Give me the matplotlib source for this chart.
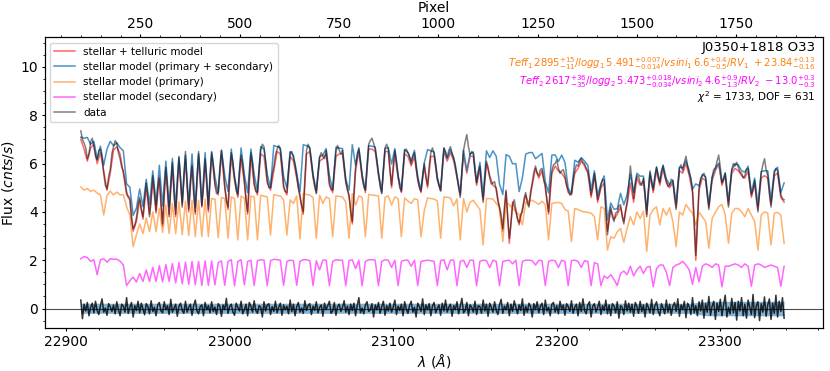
import numpy as np
import matplotlib.pyplot as plt
from matplotlib.ticker import AutoMinorLocator, MultipleLocator

# wavelength sampling (Angstrom): models every 2 A, data and residual every 1 A
wave = np.arange(22909, 23340, 2)
wave_fine = np.arange(22909, 23340, 1)

model_primary = [
    5.03, 4.90, 4.97, 4.85, 4.90, 4.78, 4.70, 3.87, 4.68, 4.86,
    4.70, 4.82, 4.70, 4.72, 4.21, 3.87, 2.56, 3.05, 3.50, 3.10,
    3.75, 3.18, 4.00, 3.18, 4.15, 3.15, 4.28, 3.11, 4.35, 3.10,
    4.42, 3.05, 4.45, 3.02, 4.48, 2.98, 4.48, 2.98, 4.53, 2.98,
    4.55, 4.53, 2.93, 4.60, 4.55, 2.91, 4.62, 4.55, 2.84, 4.65,
    4.58, 2.84, 4.65, 4.62, 2.84, 4.69, 4.65, 4.62, 3.04, 4.72,
    4.68, 4.66, 4.50, 3.04, 4.50, 4.35, 4.66, 2.88, 4.76, 4.72,
    4.69, 4.60, 2.91, 4.69, 4.35, 4.62, 4.55, 2.97, 4.66, 4.64,
    4.62, 4.40, 2.91, 4.76, 4.28, 4.66, 4.60, 2.97, 4.72, 4.70,
    4.68, 4.66, 2.91, 4.60, 4.66, 4.28, 4.62, 4.55, 2.97, 4.58,
    4.45, 4.35, 4.55, 4.50, 2.97, 4.05, 4.58, 4.55, 4.53, 4.45,
    2.91, 4.62, 4.60, 4.58, 4.25, 4.53, 2.84, 4.55, 4.00, 4.40,
    4.48, 4.28, 4.10, 2.63, 4.55, 4.55, 4.53, 4.35, 4.20, 2.77,
    4.39, 4.30, 4.14, 4.00, 3.89, 3.46, 4.39, 4.45, 4.48, 4.40,
    4.31, 4.44, 4.30, 2.84, 4.35, 4.38, 4.39, 4.35, 4.10, 4.03,
    2.77, 4.14, 4.10, 4.03, 4.00, 3.98, 3.95, 3.80, 2.84, 4.21,
    4.14, 2.42, 2.97, 2.91, 3.18, 3.32, 2.74, 3.32, 3.80, 3.46,
    4.00, 3.73, 4.03, 2.36, 3.87, 4.10, 4.21, 3.46, 4.14, 3.87,
    4.17, 3.60, 2.56, 4.00, 3.87, 4.31, 4.10, 3.94, 3.46, 3.98,
    3.80, 3.60, 2.50, 3.73, 3.98, 4.21, 4.31, 3.87, 2.70, 3.94,
    4.14, 4.14, 4.00, 3.80, 4.14, 3.87, 3.60, 2.42, 3.87, 4.00,
    3.95, 2.63, 3.94, 3.98, 3.87, 2.70,
]

model_secondary = [
    2.06, 2.15, 2.11, 1.95, 2.02, 1.40, 2.02, 2.06, 1.92, 2.06,
    2.04, 2.04, 1.96, 1.81, 0.95, 1.15, 1.30, 1.10, 1.45, 1.12,
    1.60, 1.12, 1.70, 1.12, 1.78, 1.10, 1.82, 1.12, 1.86, 1.06,
    1.90, 1.02, 1.92, 1.00, 1.95, 0.98, 1.95, 0.96, 1.97, 0.96,
    1.97, 0.98, 1.90, 1.97, 0.96, 1.95, 2.02, 0.94, 1.95, 2.02,
    0.98, 1.95, 2.00, 0.95, 1.98, 2.02, 2.00, 0.95, 1.98, 2.04,
    2.02, 2.00, 0.96, 1.95, 2.00, 1.98, 0.96, 1.95, 2.02, 2.02,
    1.98, 0.95, 1.98, 1.60, 2.00, 2.00, 0.95, 1.95, 2.02, 2.00,
    2.00, 0.95, 1.98, 2.02, 1.65, 2.00, 0.95, 1.95, 2.02, 2.02,
    2.00, 0.95, 1.95, 2.02, 2.00, 1.70, 2.00, 0.95, 1.95, 2.00,
    2.00, 1.75, 2.00, 0.95, 1.95, 1.98, 2.00, 1.98, 1.95, 0.95,
    1.98, 2.02, 1.60, 2.00, 2.00, 0.95, 1.95, 2.00, 1.70, 2.00,
    2.00, 0.95, 1.95, 2.00, 1.98, 1.70, 2.00, 1.95, 0.95, 1.95,
    1.98, 2.00, 1.85, 2.00, 0.95, 1.95, 2.00, 2.00, 1.98, 1.80,
    2.00, 1.98, 0.95, 1.95, 2.00, 1.98, 1.70, 2.00, 1.95, 0.95,
    1.98, 2.00, 1.95, 1.70, 1.98, 1.95, 0.95, 1.90, 1.85, 0.95,
    1.35, 1.25, 1.40, 1.20, 0.95, 1.45, 1.55, 1.40, 1.75, 1.35,
    1.60, 1.75, 1.45, 1.70, 1.75, 0.90, 1.65, 1.80, 1.80, 1.50,
    0.95, 1.70, 1.80, 1.85, 1.95, 1.80, 1.60, 1.00, 1.70, 1.10,
    1.75, 1.85, 1.80, 1.70, 1.85, 1.80, 0.90, 1.75, 1.75, 1.80,
    1.85, 1.80, 1.70, 1.85, 1.75, 0.92, 1.80, 1.85, 1.80, 1.70,
    1.75, 1.80, 1.75, 1.70, 0.92, 1.75,
]

model_binary = [
    7.09, 7.05, 7.08, 6.80, 6.92, 6.18, 6.72, 5.93, 6.60, 6.92,
    6.74, 6.86, 6.66, 6.53, 5.16, 5.02, 3.86, 4.15, 4.95, 4.22,
    5.35, 4.30, 5.70, 4.30, 5.93, 4.25, 6.10, 4.23, 6.21, 4.16,
    6.30, 4.40, 6.35, 4.30, 6.40, 4.20, 6.40, 4.30, 6.45, 4.25,
    6.50, 5.45, 4.80, 6.55, 5.50, 4.85, 6.60, 5.45, 4.75, 6.65,
    5.55, 4.80, 6.60, 5.55, 4.85, 6.70, 6.60, 5.55, 5.00, 6.75,
    6.70, 6.66, 5.46, 4.99, 6.50, 6.33, 5.62, 4.83, 6.78, 6.74,
    6.67, 5.55, 4.89, 6.29, 6.35, 6.62, 5.50, 4.92, 6.68, 6.64,
    6.62, 5.35, 4.89, 6.78, 5.93, 6.66, 5.55, 4.92, 6.74, 6.72,
    6.68, 5.61, 4.86, 6.62, 6.66, 5.98, 6.62, 5.50, 4.92, 6.58,
    6.45, 6.10, 6.55, 5.45, 4.92, 6.03, 6.58, 6.53, 6.48, 5.40,
    4.89, 6.64, 6.20, 6.58, 6.25, 5.48, 4.79, 6.55, 5.70, 6.40,
    6.48, 5.23, 6.05, 4.63, 6.53, 6.25, 6.53, 6.30, 5.15, 4.72,
    6.37, 6.30, 5.99, 6.00, 4.84, 5.41, 6.39, 6.45, 6.46, 6.20,
    6.31, 6.42, 5.25, 4.79, 6.35, 6.36, 6.09, 6.35, 6.05, 4.98,
    4.75, 6.14, 6.05, 6.25, 6.10, 5.93, 4.90, 5.70, 4.69, 5.16,
    5.49, 3.67, 4.37, 4.11, 4.13, 4.77, 4.29, 4.72, 5.55, 4.81,
    5.60, 5.48, 5.48, 4.06, 5.62, 5.00, 5.86, 5.26, 5.94, 5.37,
    5.12, 5.30, 4.36, 5.85, 5.82, 6.11, 5.70, 4.94, 5.16, 5.08,
    5.55, 5.45, 4.30, 5.43, 5.83, 6.01, 5.21, 5.62, 4.45, 5.74,
    5.99, 5.94, 5.70, 5.65, 5.89, 4.79, 5.40, 4.27, 5.67, 5.70,
    5.70, 4.45, 5.70, 5.85, 4.80, 5.20,
]

model_telluric = [
    7.00, 6.60, 6.10, 6.65, 6.80, 6.00, 6.45, 5.70, 4.90, 5.60,
    6.55, 6.70, 6.40, 5.60, 4.70, 4.60, 3.20, 3.60, 4.50, 3.70,
    5.00, 3.90, 5.30, 3.95, 5.50, 3.40, 5.70, 3.90, 5.90, 3.80,
    6.10, 4.30, 6.20, 4.00, 6.00, 3.90, 6.30, 4.20, 6.10, 4.00,
    6.30, 5.20, 4.70, 6.40, 5.00, 4.10, 6.30, 5.30, 4.60, 6.20,
    5.20, 3.90, 6.30, 5.10, 4.70, 6.40, 6.30, 5.20, 4.90, 5.70,
    6.50, 6.40, 5.00, 4.70, 6.30, 6.10, 5.40, 4.60, 3.90, 6.40,
    6.50, 5.40, 4.80, 6.10, 6.20, 6.40, 5.10, 4.80, 6.30, 6.40,
    6.40, 5.20, 4.70, 3.50, 5.70, 6.50, 5.40, 4.80, 6.60, 6.60,
    6.50, 5.50, 4.80, 6.50, 6.50, 5.00, 6.40, 5.40, 4.80, 6.40,
    6.30, 5.90, 6.30, 5.30, 4.80, 5.90, 5.00, 6.30, 6.30, 5.30,
    4.85, 6.50, 6.10, 6.45, 6.10, 5.40, 4.70, 6.40, 5.60, 6.30,
    6.30, 5.10, 5.80, 4.50, 6.00, 5.50, 5.10, 5.00, 4.10, 3.20,
    4.83, 2.70, 4.42, 4.00, 3.46, 4.14, 4.69, 4.28, 5.10, 5.80,
    5.40, 5.70, 5.00, 3.90, 5.60, 5.90, 5.70, 5.60, 5.40, 4.80,
    4.70, 5.60, 5.80, 6.10, 5.90, 5.60, 4.60, 5.50, 4.40, 5.00,
    5.20, 3.20, 4.10, 3.70, 3.90, 4.20, 3.60, 4.30, 5.20, 4.40,
    5.40, 5.10, 5.30, 3.90, 5.50, 4.80, 5.70, 5.10, 5.80, 5.20,
    5.00, 5.20, 4.20, 5.70, 5.60, 6.00, 5.50, 4.80, 2.00, 4.90,
    5.40, 5.30, 4.20, 5.30, 5.70, 6.00, 5.10, 5.50, 4.30, 5.60,
    5.80, 5.70, 5.50, 5.40, 5.70, 4.60, 5.20, 4.10, 5.40, 5.50,
    5.40, 4.30, 5.50, 5.60, 4.60, 4.40,
]

flux_data = [
    7.35, 7.00, 6.85, 6.65, 6.20, 6.40, 6.90, 7.05, 6.70, 6.30, 6.15, 6.55, 6.60, 6.25, 5.60, 5.10, 4.95, 5.45, 5.75, 6.40,
    6.70, 6.95, 6.85, 6.45, 6.20, 5.85, 5.70, 5.30, 4.85, 4.60, 4.50, 3.70, 3.30, 3.45, 3.75, 4.30, 4.60, 4.10, 3.80, 4.55,
    5.20, 4.60, 3.80, 4.45, 5.50, 4.90, 4.05, 4.95, 5.40, 4.30, 3.50, 4.85, 5.85, 5.00, 3.80, 5.10, 6.05, 4.70, 3.90, 5.30,
    6.25, 5.40, 4.20, 5.55, 6.50, 5.10, 4.10, 5.20, 5.90, 4.70, 4.00, 5.40, 6.50, 5.60, 4.25, 5.05, 6.20, 5.30, 4.10, 5.50,
    6.45, 5.95, 5.10, 4.75, 4.80, 5.85, 6.55, 5.95, 5.10, 4.45, 4.20, 5.50, 6.45, 6.05, 5.40, 4.90, 4.70, 5.70, 6.35, 5.95,
    5.30, 4.50, 4.00, 5.35, 6.45, 6.00, 5.20, 4.85, 4.80, 5.80, 6.55, 6.80, 6.70, 6.10, 5.30, 5.00, 5.00, 5.55, 5.85, 6.35,
    6.60, 6.75, 6.55, 5.90, 5.10, 4.85, 4.80, 5.70, 6.45, 6.50, 6.25, 5.95, 5.50, 5.00, 4.70, 4.25, 4.00, 5.40, 6.55, 6.80,
    6.60, 6.10, 5.50, 5.05, 4.75, 5.60, 6.25, 6.45, 6.30, 6.20, 6.55, 5.90, 5.20, 4.95, 4.90, 5.75, 6.50, 6.75, 6.55, 6.40,
    6.55, 5.90, 5.30, 4.90, 4.65, 4.00, 3.60, 4.80, 5.85, 6.40, 6.60, 6.10, 5.50, 5.05, 4.90, 5.90, 6.80, 6.95, 7.05, 6.85,
    6.60, 6.15, 5.60, 5.05, 4.75, 5.80, 6.65, 6.80, 6.60, 5.75, 5.10, 5.90, 6.55, 6.10, 5.50, 5.00, 4.85, 5.75, 6.55, 6.60,
    6.45, 6.30, 6.00, 6.30, 6.45, 5.85, 5.40, 5.00, 4.85, 5.50, 6.00, 5.45, 5.10, 5.90, 6.45, 6.65, 6.40, 5.95, 5.40, 5.10,
    4.90, 5.85, 6.65, 6.50, 6.25, 6.55, 6.70, 6.40, 6.20, 5.95, 5.50, 5.00, 4.60, 5.70, 6.55, 6.90, 7.20, 6.70, 6.35, 6.50,
    6.40, 5.70, 5.20, 5.65, 5.90, 5.00, 4.40, 5.35, 6.10, 5.85, 5.40, 5.15, 5.20, 5.25, 4.90, 4.45, 4.20, 3.90, 3.30, 4.20,
    4.90, 3.80, 2.90, 3.50, 4.30, 4.50, 4.10, 3.70, 3.55, 3.90, 4.00, 4.55, 4.80, 4.35, 4.20, 4.85, 5.20, 5.65, 5.90, 5.60,
    5.50, 5.75, 5.80, 5.35, 5.10, 4.50, 4.00, 5.00, 5.70, 5.95, 6.00, 6.15, 5.80, 5.60, 5.70, 5.75, 5.50, 5.10, 4.90, 4.70,
    4.80, 5.35, 5.70, 5.95, 5.90, 6.10, 6.20, 6.05, 6.00, 5.80, 5.70, 5.25, 4.70, 5.00, 5.60, 5.10, 4.50, 4.75, 5.10, 5.35,
    5.30, 4.00, 3.05, 3.70, 4.20, 3.80, 3.60, 3.95, 4.00, 4.25, 4.30, 3.80, 3.50, 4.05, 4.40, 5.10, 5.90, 5.30, 4.55, 5.15,
    5.50, 5.45, 5.20, 5.10, 5.40, 4.70, 3.80, 4.90, 5.70, 5.20, 4.90, 5.50, 5.85, 5.45, 5.20, 5.70, 5.90, 5.50, 5.30, 5.05,
    5.10, 5.35, 5.30, 4.60, 4.10, 5.05, 5.80, 5.95, 5.70, 6.05, 6.30, 5.90, 5.60, 5.40, 4.90, 3.80, 2.20, 3.70, 5.00, 5.40,
    5.50, 5.60, 5.40, 4.70, 4.10, 4.85, 5.45, 5.75, 5.80, 6.10, 6.35, 5.85, 5.20, 5.35, 5.60, 4.80, 4.20, 5.10, 5.75, 6.00,
    5.90, 6.05, 5.85, 5.65, 5.60, 5.40, 5.50, 5.75, 5.80, 5.20, 4.70, 4.90, 5.30, 4.55, 4.00, 4.85, 5.60, 5.95, 6.20, 5.75,
    5.50, 4.75, 4.20, 4.95, 5.60, 5.80, 5.70, 5.20, 4.70, 4.55, 4.50,
]

residual = [
    0.35, -0.42, 0.18, -0.10, 0.25, -0.30, 0.05, 0.22, -0.18, 0.30, -0.08, -0.25, 0.12, 0.40, -0.15, 0.02, -0.28, 0.20, 0.08, -0.12,
    0.15, -0.22, 0.28, -0.05, -0.30, 0.18, 0.10, -0.15, 0.45, -0.20, 0.05, 0.25, -0.35, 0.12, -0.08, 0.30, -0.18, 0.22, -0.02, -0.26,
    0.20, 0.08, -0.22, 0.32, -0.12, 0.05, -0.30, 0.15, 0.25, -0.10, -0.18, 0.28, -0.05, 0.12, -0.25, 0.38, -0.15, 0.02, 0.18, -0.32,
    0.10, 0.22, -0.08, -0.20, 0.30, -0.15, 0.05, 0.18, -0.28, 0.12, 0.35, -0.10, -0.22, 0.08, 0.15, -0.30, 0.25, -0.05, 0.12, -0.18,
    0.28, -0.12, 0.06, -0.25, 0.20, 0.10, -0.32, 0.15, -0.05, 0.42, -0.20, 0.08, 0.18, -0.15, -0.28, 0.22, 0.05, -0.10, 0.30, -0.22,
    -0.05, 0.18, -0.30, 0.25, 0.10, -0.15, 0.32, -0.08, -0.20, 0.12, 0.05, -0.35, 0.28, -0.10, 0.15, 0.20, -0.25, 0.08, -0.12, 0.30,
    -0.18, 0.05, 0.22, -0.28, 0.15, -0.05, 0.10, -0.22, 0.35, -0.12, 0.18, -0.30, 0.08, 0.25, -0.15, 0.02, -0.20, 0.32, -0.08, 0.12,
    0.20, -0.25, 0.10, -0.08, 0.28, -0.18, 0.05, 0.15, -0.32, 0.22, -0.05, 0.12, 0.30, -0.20, -0.10, 0.25, -0.28, 0.08, 0.18, -0.12,
    0.05, 0.32, -0.15, 0.10, -0.25, 0.18, -0.08, 0.22, -0.30, 0.12, 0.45, -0.18, 0.02, -0.22, 0.15, 0.28, -0.12, -0.05, 0.20, -0.35,
    0.15, -0.05, 0.25, -0.20, 0.08, 0.30, -0.28, 0.12, -0.10, 0.22, -0.15, 0.05, 0.35, -0.25, 0.10, -0.08, 0.18, -0.30, 0.28, -0.02,
    -0.20, 0.12, 0.30, -0.15, 0.05, -0.35, 0.22, 0.08, -0.12, 0.40, -0.25, 0.15, -0.05, 0.20, -0.30, 0.10, 0.25, -0.18, 0.02, 0.15,
    -0.28, 0.22, -0.10, 0.35, -0.15, 0.05, 0.18, -0.32, 0.12, -0.05, 0.28, -0.22, 0.10, 0.42, -0.18, -0.08, 0.25, -0.30, 0.15, 0.05,
    -0.15, 0.30, -0.25, 0.12, 0.08, -0.20, 0.35, -0.10, 0.18, -0.32, 0.22, 0.05, -0.15, 0.28, -0.08, -0.25, 0.15, 0.38, -0.20, 0.10,
    -0.05, 0.25, -0.30, 0.18, -0.12, 0.32, 0.05, -0.22, 0.15, -0.08, 0.40, -0.28, 0.10, -0.15, 0.22, 0.08, -0.35, 0.20, -0.05, 0.28,
    -0.18, 0.10, 0.22, -0.25, 0.35, -0.10, 0.05, -0.30, 0.18, 0.25, -0.15, 0.12, -0.22, 0.30, -0.05, 0.15, -0.28, 0.20, 0.08, -0.12,
    0.32, -0.20, 0.05, 0.18, -0.30, 0.25, -0.12, 0.40, -0.08, -0.22, 0.15, 0.28, -0.35, 0.10, 0.20, -0.15, 0.05, 0.30, -0.25, 0.12,
    -0.08, 0.35, -0.22, 0.15, -0.30, 0.20, 0.10, -0.18, 0.28, -0.40, 0.12, 0.05, -0.25, 0.32, -0.10, 0.22, -0.15, 0.18, -0.32, 0.25,
    0.08, -0.20, 0.30, -0.12, 0.15, -0.35, 0.22, 0.05, -0.18, 0.38, -0.25, 0.12, 0.28, -0.10, -0.30, 0.20, 0.02, -0.22, 0.35, -0.15,
    0.18, -0.28, 0.10, 0.25, -0.12, 0.40, -0.32, 0.15, -0.05, 0.30, -0.38, 0.22, 0.08, -0.25, 0.45, -0.18, 0.12, -0.30, 0.28, -0.10,
    0.35, -0.40, 0.20, -0.15, 0.50, -0.28, 0.10, 0.30, -0.45, 0.22, -0.12, 0.38, -0.30, 0.15, 0.55, -0.35, 0.05, -0.22, 0.42, -0.18,
    0.25, -0.48, 0.30, -0.10, 0.45, -0.30, 0.18, -0.40, 0.35, 0.05, -0.25, 0.58, -0.38, 0.12, 0.28, -0.50, 0.20, -0.15, 0.48, -0.32,
    0.15, 0.40, -0.45, 0.22, -0.20, 0.55, -0.35, 0.30, -0.12, 0.45, -0.40,
]

# flux uncertainty band around zero
band_wave = [22909, 23282, 23292, 23339]
band_upper = [0.22, 0.22, 0.30, 0.30]
band_lower = [-0.20, -0.20, -0.30, -0.30]

label_primary = (r"$Teff_{1}\,2895^{+15}_{-11}/logg_{1}\,5.491^{+0.007}_{-0.014}"
                 r"/vsini_{1}\,6.6^{+0.4}_{-0.5}/RV_{1}\ +23.84^{+0.13}_{-0.16}$")
label_secondary = (r"$Teff_{2}\,2617^{+36}_{-35}/logg_{2}\,5.473^{+0.018}_{-0.034}"
                   r"/vsini_{2}\,4.6^{+0.9}_{-1.3}/RV_{2}\ -13.0^{+0.3}_{-0.3}$")

fig = plt.figure(figsize=(8.3, 3.71), dpi=100)
ax = fig.add_axes([0.054, 0.115, 0.938, 0.784])

ax.plot(wave, model_telluric, color="r", alpha=0.6, lw=1.1, label="stellar + telluric model")
ax.plot(wave, model_binary, color="C0", alpha=0.8, lw=1.1, label="stellar model (primary + secondary)")
ax.plot(wave, model_primary, color="C1", alpha=0.6, lw=1.1, label="stellar model (primary)")
ax.plot(wave, model_secondary, color="magenta", alpha=0.6, lw=1.1, label="stellar model (secondary)")
ax.plot(wave_fine, flux_data, color="k", alpha=0.5, lw=1.1, label="data")

ax.fill_between(band_wave, band_lower, band_upper, color="C0", alpha=0.55, lw=0)
ax.plot(wave_fine, residual, color="k", alpha=0.8, lw=1.1)
ax.axhline(0, color="k", lw=0.8, alpha=0.7)

ax.set_xlim(22887, 23363)
ax.set_ylim(-0.82, 11.22)
ax.xaxis.set_major_locator(MultipleLocator(100))
ax.yaxis.set_major_locator(MultipleLocator(2))
ax.xaxis.set_minor_locator(AutoMinorLocator())
ax.yaxis.set_minor_locator(AutoMinorLocator())
ax.tick_params(which="major", labelsize=10, length=2.4, pad=2.6)
ax.tick_params(which="minor", length=1.4)
ax.set_xlabel(r"$\lambda$ ($\AA$)", fontsize=10, labelpad=2)
ax.set_ylabel(r"Flux ($cnts/s$)", fontsize=10, labelpad=3)

ax.legend(loc="upper left", fontsize=7.5)

ax.text(0.99, 0.967, "J0350+1818 O33", transform=ax.transAxes,
        ha="right", va="center", fontsize=9.5)
ax.text(0.99, 0.910, label_primary, transform=ax.transAxes,
        ha="right", va="center", fontsize=7.2, color="C1")
ax.text(0.99, 0.850, label_secondary, transform=ax.transAxes,
        ha="right", va="center", fontsize=7.2, color="magenta")
ax.text(0.99, 0.795, r"$\chi^2$ = 1733, DOF = 631", transform=ax.transAxes,
        ha="right", va="center", fontsize=7.5)

ax2 = ax.twiny()
ax2.set_xlim(9, 1970)
ax2.xaxis.set_major_locator(MultipleLocator(250))
ax2.xaxis.set_minor_locator(AutoMinorLocator())
ax2.tick_params(which="major", labelsize=10, length=2.4, pad=2.6)
ax2.tick_params(which="minor", length=1.4)
ax2.set_xlabel("Pixel", fontsize=10, labelpad=3)

fig.savefig("out.png", dpi=100)
